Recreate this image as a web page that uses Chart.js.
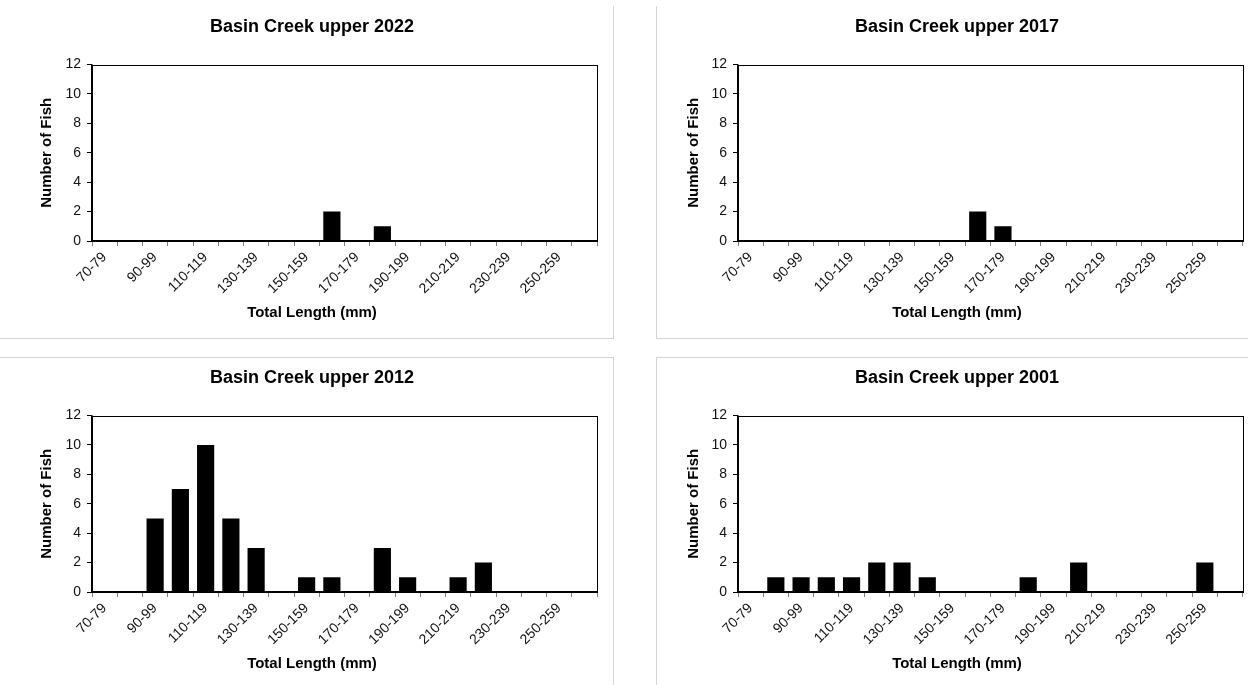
<!DOCTYPE html>
<html>
<head>
<meta charset="utf-8">
<script src="https://cdn.jsdelivr.net/npm/chart.js@4.4.1/dist/chart.umd.min.js"></script>
<style>
  body { margin: 0; background: #fff; width: 1248px; height: 685px; position: relative; overflow: hidden; }
  canvas { position: absolute; }
  .rule { position: absolute; background: #d4d4d4; }
</style>
</head>
<body>
<!-- light frames round the four chart areas -->
<div class="rule" style="left:613px;top:6px;width:1px;height:332px"></div>
<div class="rule" style="left:0;top:338px;width:614px;height:1px"></div>
<div class="rule" style="left:656px;top:6px;width:1px;height:332px"></div>
<div class="rule" style="left:656px;top:338px;width:592px;height:1px"></div>
<div class="rule" style="left:0;top:357px;width:614px;height:1px"></div>
<div class="rule" style="left:613px;top:357px;width:1px;height:328px"></div>
<div class="rule" style="left:656px;top:357px;width:592px;height:1px"></div>
<div class="rule" style="left:656px;top:357px;width:1px;height:328px"></div>

<canvas id="c2022" width="605" height="336" style="left:0;top:0"></canvas>
<canvas id="c2017" width="599" height="336" style="left:646px;top:0"></canvas>
<canvas id="c2012" width="605" height="336" style="left:0;top:351px"></canvas>
<canvas id="c2001" width="599" height="336" style="left:646px;top:351px"></canvas>

<script>
const lengthBins = ['70-79', '80-89', '90-99', '100-109', '110-119', '120-129', '130-139',
  '140-149', '150-159', '160-169', '170-179', '180-189', '190-199', '200-209', '210-219',
  '220-229', '230-239', '240-249', '250-259', '260-269'];

const fish2022 = [0, 0, 0, 0, 0, 0, 0, 0, 0, 2, 0, 1, 0, 0, 0, 0, 0, 0, 0, 0];
const fish2017 = [0, 0, 0, 0, 0, 0, 0, 0, 0, 2, 1, 0, 0, 0, 0, 0, 0, 0, 0, 0];
const fish2012 = [0, 0, 5, 7, 10, 5, 3, 0, 1, 1, 0, 3, 1, 0, 1, 2, 0, 0, 0, 0];
const fish2001 = [0, 1, 1, 1, 1, 2, 2, 1, 0, 0, 0, 1, 0, 2, 0, 0, 0, 0, 2, 0];

const yMax = 12;
const yStep = 2;

const FONT = 'Liberation Sans, Arial, sans-serif';
Chart.defaults.font.family = FONT;
Chart.defaults.color = '#111';

// black frame round the plot area
const plotBox = {
  id: 'plotBox',
  afterDraw(chart) {
    const { ctx, chartArea: a } = chart;
    ctx.save();
    ctx.strokeStyle = '#000';
    ctx.lineWidth = 1;
    ctx.strokeRect(Math.round(a.left) + 0.5, Math.round(a.top) + 0.5,
      Math.round(a.right - a.left), Math.round(a.bottom - a.top));
    ctx.restore();
  }
};

function makeChart(id, title, counts, padLeft, padRight, yWidth, yTitlePad) {
  return new Chart(document.getElementById(id), {
    type: 'bar',
    data: {
      labels: lengthBins,
      datasets: [{
        data: counts,
        backgroundColor: '#000',
        borderWidth: 0,
        barPercentage: 0.68,
        categoryPercentage: 1
      }]
    },
    options: {
      responsive: false,
      animation: false,
      devicePixelRatio: 1,
      layout: { padding: { left: padLeft, right: padRight, top: 0, bottom: 0 } },
      plugins: {
        legend: { display: false },
        tooltip: { enabled: false },
        title: {
          display: true,
          text: title,
          color: '#000',
          font: { size: 18, weight: 'bold' },
          padding: { top: 16, bottom: 27 }
        },
        subtitle: {
          display: true,
          position: 'bottom',
          text: 'Total Length (mm)',
          color: '#000',
          font: { size: 15, weight: 'bold' },
          padding: { top: 4, bottom: 14 }
        }
      },
      scales: {
        x: {
          offset: true,
          grid: { offset: true, drawOnChartArea: false, tickLength: 5, tickColor: '#808080' },
          border: { color: '#000', width: 1.5 },
          ticks: {
            autoSkip: false,
            maxRotation: 45,
            minRotation: 45,
            padding: 3,
            font: { size: 14 },
            callback: (v, i) => (i % 2 === 0 ? lengthBins[i] : '')
          },
          afterFit: s => { s.height = 59; }
        },
        y: {
          min: 0,
          max: yMax,
          ticks: { stepSize: yStep, padding: 6, font: { size: 14 } },
          grid: { drawOnChartArea: false, tickLength: 5, tickColor: '#000' },
          border: { color: '#000', width: 1.5 },
          title: {
            display: true,
            text: 'Number of Fish',
            color: '#000',
            font: { size: 15, weight: 'bold' },
            padding: { top: yTitlePad, bottom: 0 }
          },
          afterFit: s => { s.width = yWidth; }
        }
      }
    },
    plugins: [plotBox]
  });
}

makeChart('c2022', 'Basin Creek upper 2022', fish2022, 27, 8, 65, 11);
makeChart('c2017', 'Basin Creek upper 2017', fish2017, 25, 2, 67, 14);
makeChart('c2012', 'Basin Creek upper 2012', fish2012, 27, 8, 65, 11);
makeChart('c2001', 'Basin Creek upper 2001', fish2001, 25, 2, 67, 14);
</script>
</body>
</html>
